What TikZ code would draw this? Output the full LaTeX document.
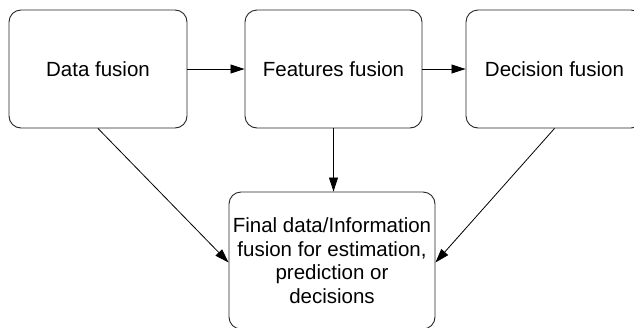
\documentclass[tikz,border=0pt]{standalone}
\usepackage{fontspec}
\setmainfont{Liberation Sans}
\usetikzlibrary{arrows.meta}
\begin{document}
\begin{tikzpicture}[x=1pt,y=-1pt,
  box/.style={draw=black!85, line width=0.9pt, rounded corners=12pt, align=center,
    inner sep=0pt, font=\fontsize{20.5}{23.5}\selectfont},
  conn/.style={draw=black, line width=0.8pt, -{Triangle[length=14pt,width=9pt]}}]
\useasboundingbox (0,0) rectangle (634,327);
\clip (0,0) rectangle (634,327);
\fill[white] (0,0) rectangle (634,327);
\node[box, minimum width=178pt, minimum height=118pt] (b1) at (98,69) {Data fusion};
\node[box, minimum width=177pt, minimum height=118pt] (b2) at (333.5,69) {Features fusion};
\node[box, minimum width=177pt, minimum height=118pt] (b3) at (554.5,69) {Decision fusion};
\node[box, minimum width=206pt, minimum height=137pt] (b4) at (332,260.5) {Final data/Information\\fusion for estimation,\\prediction or\\decisions};
\draw[conn] (b1) -- (b2);
\draw[conn] (b2) -- (b3);
\draw[conn] (b2.south) -- (b2.south |- b4.north);
\draw[conn] (b1.south) -- ([yshift=-2pt]b4.west);
\draw[conn] (b3.south) -- ([yshift=-2pt]b4.east);
\end{tikzpicture}
\end{document}
